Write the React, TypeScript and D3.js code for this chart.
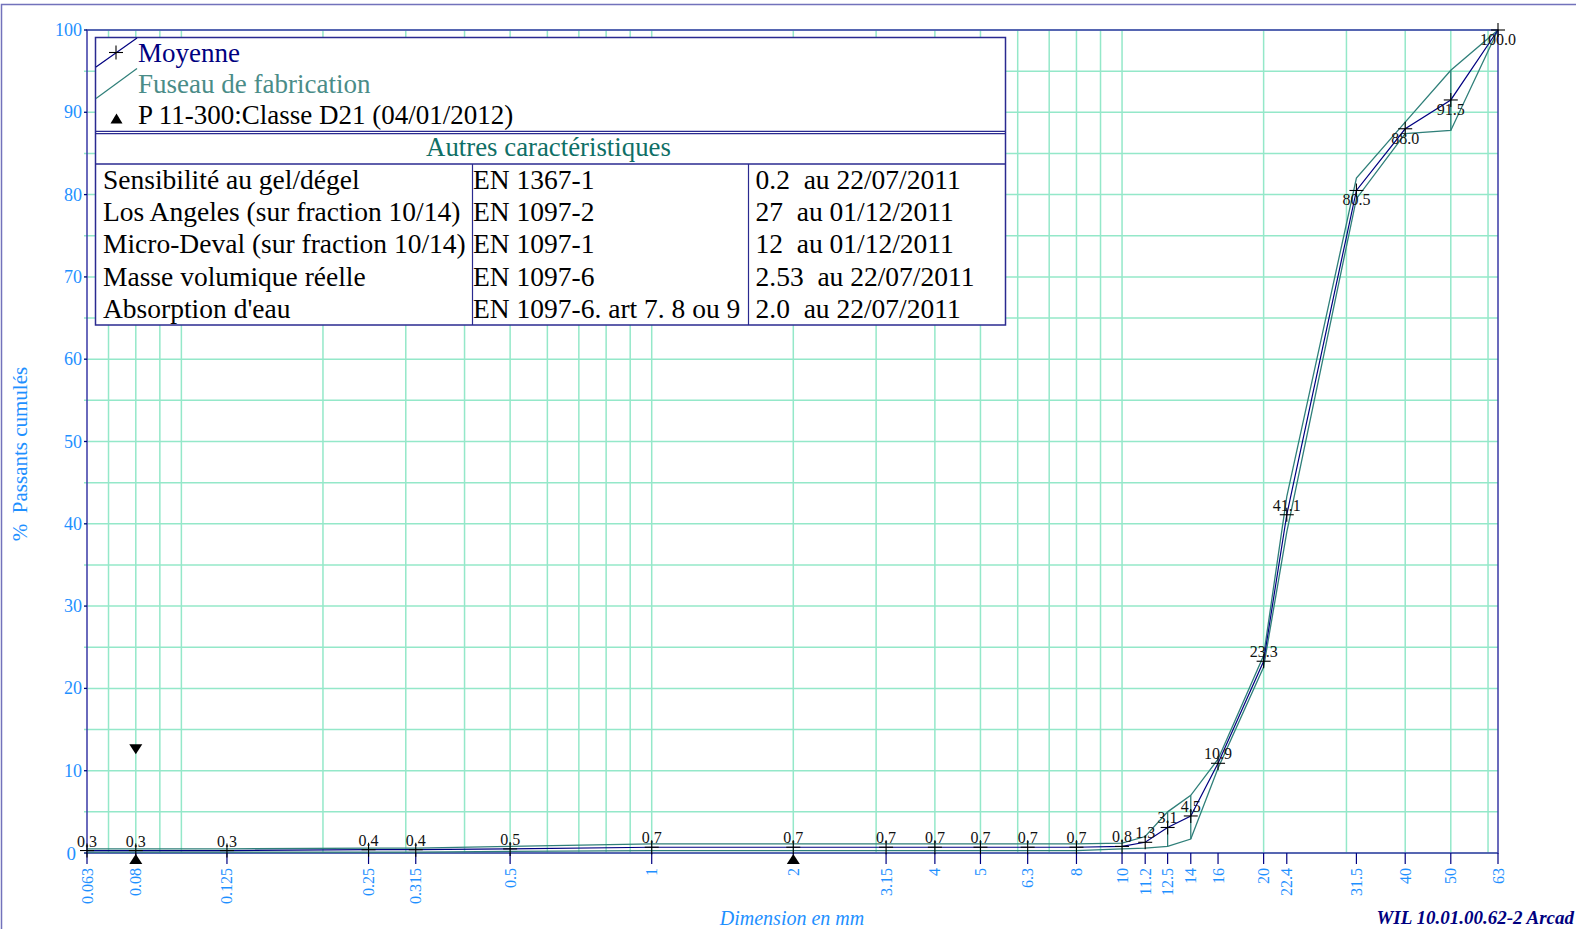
import React from "react";
import * as d3 from "d3";

const sieves = [0.063, 0.08, 0.125, 0.25, 0.315, 0.5, 1, 2, 3.15, 4, 5, 6.3, 8, 10, 11.2, 12.5, 14, 16, 20, 22.4, 31.5, 40, 50, 63];
const sieveLabels = ["0.063", "0.08", "0.125", "0.25", "0.315", "0.5", "1", "2", "3.15", "4", "5", "6.3", "8", "10", "11.2", "12.5", "14", "16", "20", "22.4", "31.5", "40", "50", "63"];
const meanValues = [0.3, 0.3, 0.3, 0.4, 0.4, 0.5, 0.7, 0.7, 0.7, 0.7, 0.7, 0.7, 0.7, 0.8, 1.3, 3.1, 4.5, 10.9, 23.3, 41.1, 80.5, 88.0, 91.5, 100.0];
const fuseauUpper = [0.5, 0.5, 0.5, 0.6, 0.6, 0.8, 1.1, 1.1, 1.1, 1.1, 1.1, 1.1, 1.1, 1.2, 2.0, 5.0, 7.0, 11.4, 24.0, 43.3, 82.0, 88.8, 95.1, 100];
const fuseauLower = [0.1, 0.1, 0.1, 0.1, 0.1, 0.2, 0.3, 0.3, 0.3, 0.3, 0.3, 0.3, 0.3, 0.5, 0.6, 0.8, 1.7, 10.3, 22.6, 39.0, 79.5, 87.4, 87.8, 100];
const fuseauVerticals = [12.5, 14, 50];
const specUp = [{ d: 0.08, v: 0 }, { d: 2, v: 0 }];
const specDown = [{ d: 0.08, v: 12 }];
const gridX = [0.07, 0.08, 0.09, 0.1, 0.2, 0.3, 0.4, 0.5, 0.6, 0.7, 0.8, 0.9, 1, 2, 3, 4, 5, 6, 7, 8, 9, 10, 20, 30, 40, 50, 60];
const gridY = d3.range(0, 101, 5);
const yTicks = d3.range(0, 101, 10);

const legendItems = ["Moyenne", "Fuseau de fabrication", "P 11-300:Classe D21 (04/01/2012)"];
const tableTitle = "Autres caractéristiques";
const tableRows = [
  ["Sensibilité au gel/dégel", "EN 1367-1", "0.2  au 22/07/2011"],
  ["Los Angeles (sur fraction 10/14)", "EN 1097-2", "27  au 01/12/2011"],
  ["Micro-Deval (sur fraction 10/14)", "EN 1097-1", "12  au 01/12/2011"],
  ["Masse volumique réelle", "EN 1097-6", "2.53  au 22/07/2011"],
  ["Absorption d'eau", "EN 1097-6. art 7. 8 ou 9", "2.0  au 22/07/2011"],
];

const W = 1576;
const H = 929;
const L = 87, R = 1498, T = 30, B = 853;
const FONT = "'Liberation Serif', 'Times New Roman', serif";
const BLUE = "#1E90FF";
const NAVY = "#000080";
const AXIS = "#3a3aa6";
const GRID = "#94e8c9";
const TEAL = "#2f7f79";

export default function App() {
  const x = d3.scaleLog().domain([0.063, 63]).range([L, R]);
  const y = d3.scaleLinear().domain([0, 100]).range([B, T]);

  const line = d3.line<[number, number]>().x((d) => x(d[0])).y((d) => y(d[1]));
  const meanPts = sieves.map((s, i) => [s, meanValues[i]] as [number, number]);
  const upPts = sieves.map((s, i) => [s, fuseauUpper[i]] as [number, number]);
  const loPts = sieves.map((s, i) => [s, fuseauLower[i]] as [number, number]);

  const tri = (cx: number, cy: number, up: boolean, hw = 6.5, h = 10) =>
    up
      ? `M${cx},${cy} L${cx + hw},${cy + h} L${cx - hw},${cy + h} Z`
      : `M${cx},${cy} L${cx + hw},${cy - h} L${cx - hw},${cy - h} Z`;

  const boxL = 95.5, boxR = 1005.5, boxT = 37.5, boxB = 325;
  const divY = 132.5, headB = 164;
  const col2 = 472.5, col3 = 748.5;
  const rowH = (boxB - headB) / tableRows.length;

  return (
    <svg
      width={W}
      height={H}
      style={{ position: "absolute", left: 0, top: 0, background: "#fff" }}
      fontFamily={FONT}
    >
      <rect x={0} y={0} width={W} height={H} fill="#fff" />
      <rect x={1.5} y={4.5} width={W + 20} height={H + 20} fill="none" stroke="#7272bb" strokeWidth={1.5} />

      {/* grid */}
      {gridX.map((g) => (
        <line key={"gx" + g} x1={x(g)} x2={x(g)} y1={T} y2={B} stroke={GRID} strokeWidth={1.5} />
      ))}
      {gridY.map((g) => (
        <line key={"gy" + g} x1={L - 3} x2={R} y1={y(g)} y2={y(g)} stroke={GRID} strokeWidth={1.5} />
      ))}

      {/* axes frame */}
      <rect x={L} y={T} width={R - L} height={B - T} fill="none" stroke={AXIS} strokeWidth={1.5} />

      {/* y ticks */}
      {yTicks.map((t) => (
        <g key={"yt" + t}>
          <line x1={L - 3} x2={L} y1={y(t)} y2={y(t)} stroke={NAVY} strokeWidth={1.2} />
          <text x={t === 0 ? 76 : 82} y={y(t) + (t === 0 ? 7 : 6)} textAnchor="end" fontSize={t === 0 ? 19 : 18} fill={BLUE}>
            {t}
          </text>
        </g>
      ))}

      {/* x ticks */}
      {sieves.map((s, i) => (
        <g key={"xt" + s}>
          <line x1={x(s)} x2={x(s)} y1={B} y2={B + 11} stroke={NAVY} strokeWidth={1.2} />
          <text
            transform={`translate(${x(s) + 5.5},${B + 15}) rotate(-90)`}
            textAnchor="end"
            fontSize={16}
            fill={BLUE}
          >
            {sieveLabels[i]}
          </text>
        </g>
      ))}

      {/* fuseau */}
      <path d={line(upPts) || ""} fill="none" stroke={TEAL} strokeWidth={1.3} />
      <path d={line(loPts) || ""} fill="none" stroke={TEAL} strokeWidth={1.3} />
      {fuseauVerticals.map((s) => {
        const i = sieves.indexOf(s);
        return (
          <line key={"fv" + s} x1={x(s)} x2={x(s)} y1={y(fuseauUpper[i])} y2={y(fuseauLower[i])} stroke={TEAL} strokeWidth={1.3} />
        );
      })}

      {/* mean */}
      <path d={line(meanPts) || ""} fill="none" stroke={NAVY} strokeWidth={1.2} />
      {meanPts.map(([s, v]) => (
        <g key={"m" + s}>
          <line x1={x(s) - 7} x2={x(s) + 7} y1={y(v)} y2={y(v)} stroke="#000" strokeWidth={1.1} />
          <line x1={x(s)} x2={x(s)} y1={y(v) - 7} y2={y(v) + 7} stroke="#000" strokeWidth={1.1} />
          <text x={x(s)} y={v >= 50 ? y(v) + 15 : y(v) - 4} textAnchor="middle" fontSize={16} fill="#111">
            {v.toFixed(1)}
          </text>
        </g>
      ))}

      {/* spec triangles */}
      {specUp.map((p, i) => (
        <path key={"su" + i} d={tri(x(p.d), y(p.v) + 1, true)} fill="#000" />
      ))}
      {specDown.map((p, i) => (
        <path key={"sd" + i} d={tri(x(p.d), y(p.v), false)} fill="#000" />
      ))}

      {/* legend + table box */}
      <rect x={boxL} y={boxT} width={boxR - boxL} height={boxB - boxT} fill="#fff" stroke="#2a2a90" strokeWidth={1.5} />
      <line x1={boxL} x2={boxR} y1={divY - 1.2} y2={divY - 1.2} stroke="#2a2a90" strokeWidth={1.3} />
      <line x1={boxL} x2={boxR} y1={divY + 1.2} y2={divY + 1.2} stroke="#2a2a90" strokeWidth={1.3} />
      <line x1={boxL} x2={boxR} y1={headB} y2={headB} stroke="#2a2a90" strokeWidth={1.5} />
      <line x1={col2} x2={col2} y1={headB} y2={boxB} stroke="#2a2a90" strokeWidth={1.2} />
      <line x1={col3} x2={col3} y1={headB} y2={boxB} stroke="#2a2a90" strokeWidth={1.2} />

      {/* legend entries */}
      <line x1={96} y1={67} x2={137} y2={38} stroke={NAVY} strokeWidth={1.2} />
      <line x1={109} x2={123} y1={52.5} y2={52.5} stroke="#000" strokeWidth={1.1} />
      <line x1={116} x2={116} y1={45.5} y2={59.5} stroke="#000" strokeWidth={1.1} />
      <text x={138} y={62} fontSize={27} fill={NAVY}>
        {legendItems[0]}
      </text>
      <line x1={96} y1={98.5} x2={137} y2={68.5} stroke={TEAL} strokeWidth={1.2} />
      <text x={138} y={92.5} fontSize={27} fill="#4a8c88">
        {legendItems[1]}
      </text>
      <path d={tri(116.5, 113.5, true, 6, 10)} fill="#000" />
      <text x={138} y={123.5} fontSize={27} fill="#000">
        {legendItems[2]}
      </text>

      {/* table */}
      <text x={(boxL + boxR) / 2 - 2} y={156} textAnchor="middle" fontSize={26.8} fill="#0f6f66">
        {tableTitle}
      </text>
      {tableRows.map((r, i) => {
        const by = headB + rowH * i + 25;
        return (
          <g key={"row" + i} fontSize={27.5} fill="#000">
            <text x={103} y={by}>{r[0]}</text>
            <text x={col2 + 0.5} y={by}>{r[1]}</text>
            <text x={col3 + 7} y={by} style={{ whiteSpace: "pre" }}>{r[2]}</text>
          </g>
        );
      })}

      {/* titles */}
      <text transform="translate(26.5,454) rotate(-90)" textAnchor="middle" fontSize={21} fill={BLUE} style={{ whiteSpace: "pre" }}>
        {"%  Passants cumulés"}
      </text>
      <text x={792} y={925} textAnchor="middle" fontSize={20} fontStyle="italic" fill={BLUE}>
        Dimension en mm
      </text>
      <text x={1574} y={924} textAnchor="end" fontSize={19} fontStyle="italic" fontWeight="bold" fill={NAVY}>
        WIL 10.01.00.62-2 Arcad
      </text>
    </svg>
  );
}
